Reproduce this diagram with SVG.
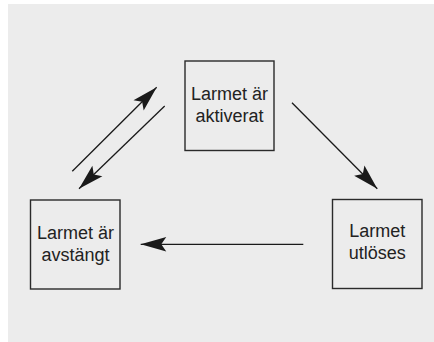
<svg xmlns="http://www.w3.org/2000/svg" width="434" height="342" viewBox="0 0 434 342">
<style>
.box{fill:none;stroke:#2a2a2a;stroke-width:1.4}
.lbl{font-family:"Liberation Sans",Arial,sans-serif;font-size:18px;fill:#222;text-anchor:middle}
.edge{stroke:#1a1a1a;stroke-width:1.3;fill:none;marker-end:url(#ah)}
</style>
<defs>
<marker id="ah" markerUnits="userSpaceOnUse" markerWidth="30" markerHeight="20" viewBox="-25 -8 27 16" refX="0" refY="0" orient="auto">
<path d="M0,0 L-23,-6.5 L-18.5,0 L-23,6.5 Z" fill="#1a1a1a"/>
</marker>
</defs>
<rect x="0" y="0" width="434" height="342" fill="#ffffff"/>
<rect x="8" y="4" width="426" height="338" fill="#ececec"/>
<g id="node-aktiverat">
<rect class="box" x="185" y="61" width="89" height="89.5"/>
<text class="lbl" x="229.5" y="100">Larmet är</text>
<text class="lbl" x="229.5" y="122">aktiverat</text>
</g>
<g id="node-avstangt">
<rect class="box" x="30.5" y="200" width="89.5" height="89"/>
<text class="lbl" x="75.5" y="238.5">Larmet är</text>
<text class="lbl" x="75.5" y="260.5">avstängt</text>
</g>
<g id="node-utloses">
<rect class="box" x="332.5" y="199.5" width="89.5" height="89"/>
<text class="lbl" x="377.3" y="237">Larmet</text>
<text class="lbl" x="377.3" y="259">utlöses</text>
</g>
<g id="connectors">
<line class="edge" x1="72.3" y1="171.3" x2="156.7" y2="87.3"/>
<line class="edge" x1="164.7" y1="106" x2="79" y2="188.7"/>
<line class="edge" x1="292" y1="102.7" x2="377.3" y2="188.7"/>
<line class="edge" x1="303.3" y1="244.3" x2="140.7" y2="244.3"/>
</g>
</svg>
